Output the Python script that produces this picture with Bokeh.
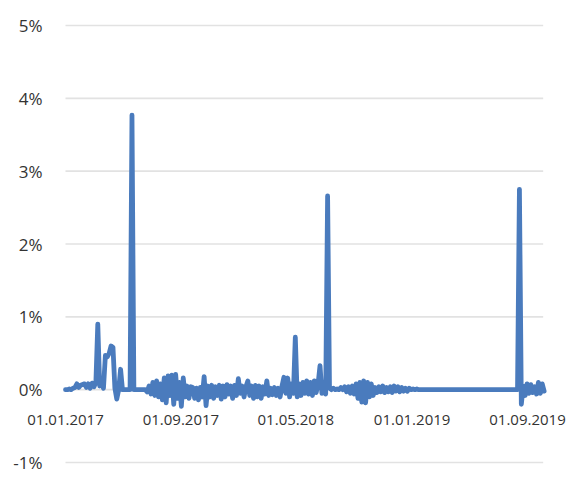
import pandas as pd
from bokeh.plotting import figure
from bokeh.models import ColumnDataSource, Range1d
from bokeh.core.properties import value
from bokeh.embed import file_html
from bokeh.resources import INLINE

# ---- data (observations sampled every 4 days, values in %) ----
start_date = "2017-01-01"
step = "4D"
values = [
    0.0, 0.0, 0.01, 0.0, 0.02, 0.03, 0.08, 0.03, 0.06, 0.07,
    0.08, 0.03, 0.08, 0.02, 0.09, 0.04, 0.1, 0.9, 0.05, 0.08,
    0.02,
    0.47, 0.45, 0.5, 0.6, 0.58, 0.02, -0.13, 0.0, 0.28, 0.0,
    0.0, 0.0, 0.0, 0.0,
    3.77,
    0.0, 0.0, 0.0, 0.0, 0.0, 0.0,
    0.0, -0.03, 0.05, -0.06, 0.1, -0.08, 0.12, -0.1, 0.08, -0.14,
    0.16, -0.18, 0.19, -0.08, 0.2, -0.2, 0.21, -0.12, 0.1, -0.23,
    0.16, -0.1, 0.05, -0.12, 0.04,
    0.03, -0.12, 0.02, -0.14, 0.03, -0.1, 0.18, -0.22, 0.05, -0.1,
    0.06, -0.12, 0.04, -0.08, 0.06, -0.13, 0.05, -0.1, 0.07, -0.06,
    0.05, -0.12, 0.06, -0.08, 0.15, -0.05, 0.05, -0.1, 0.04, 0.12,
    -0.08, 0.05, -0.12, 0.06, -0.1, 0.05, -0.12, 0.04, -0.06, 0.12,
    -0.08, 0.02, -0.07, 0.03, -0.08, 0.02, -0.1, 0.05, 0.17, -0.05,
    0.16, -0.1, 0.08, -0.05, 0.72, -0.1,
    0.08, -0.08, 0.1, -0.05, 0.12, -0.06, 0.1, -0.08, 0.12, -0.04,
    0.08, 0.33, -0.05, 0.1, -0.06, 2.66, 0.02, 0.0,
    0.02, 0.0, 0.01, 0.0, 0.03, 0.0, 0.04, -0.03, 0.04, -0.05,
    0.05, -0.06, 0.08, -0.12, 0.1, -0.17, 0.12, -0.18, 0.1, -0.1,
    0.08, -0.08, 0.03, -0.04, 0.04, -0.03, 0.05, -0.04, 0.03, -0.03,
    0.04, -0.04, 0.05, -0.02, 0.04, -0.03, 0.03, -0.02, 0.02, -0.02,
    0.02, 0.0, 0.01, 0.0, 0.01, 0.0,
    0.0, 0.0, 0.0, 0.0, 0.0, 0.0, 0.0, 0.0, 0.0, 0.0,
    0.0, 0.0, 0.0, 0.0, 0.0, 0.0, 0.0, 0.0, 0.0, 0.0,
    0.0, 0.0, 0.0, 0.0, 0.0, 0.0, 0.0, 0.0, 0.0, 0.0,
    0.0, 0.0, 0.0, 0.0, 0.0, 0.0, 0.0, 0.0, 0.0, 0.0,
    0.0, 0.0, 0.0, 0.0, 0.0, 0.0, 0.0, 0.0, 0.0, 0.0,
    0.0, 0.0,
    2.75,
    -0.2, 0.05, -0.08, 0.08, -0.05, 0.07, -0.04, 0.04, -0.06, 0.1,
    -0.05, 0.08, -0.02,
]
x_tick_dates = ["2017-01-01", "2017-09-01", "2018-05-01", "2019-01-01", "2019-09-01"]
x_tick_labels = ["01.01.2017", "01.09.2017", "01.05.2018", "01.01.2019", "01.09.2019"]
y_ticks = [-1, 0, 1, 2, 3, 4, 5]
y_tick_labels = ["-1%", "0%", "1%", "2%", "3%", "4%", "5%"]
x_start, x_end = pd.Timestamp("2017-01-01"), pd.Timestamp("2019-10-04")

# ---- layout (pixels) ----
W, H = 567, 474
grid_left_px = 65      # where the gridlines start
last_label_px = 527    # centre of the last date label
top_px, bottom_px = 25, 462   # pixel rows of the 5% and -1% gridlines

day = pd.Timedelta(days=1)
px_per_day = (last_label_px - grid_left_px) / ((pd.Timestamp(x_tick_dates[-1]) - x_start) / day)
xr = Range1d(x_start - day * (grid_left_px / px_per_day),
             x_start + day * ((W - grid_left_px) / px_per_day))
ppu = (bottom_px - top_px) / (y_ticks[-1] - y_ticks[0])
yr = Range1d(y_ticks[0] - (H - bottom_px) / ppu, y_ticks[-1] + top_px / ppu)

dates = pd.date_range(start_date, periods=len(values), freq=step)
src = ColumnDataSource(dict(date=dates, value=values))

p = figure(width=W, height=H, x_axis_type="datetime", x_axis_location=None, y_axis_location=None,
           output_backend="svg", toolbar_location=None, x_range=xr, y_range=yr,
           min_border=0)
p.outline_line_color = None
p.background_fill_color = "#ffffff"
p.border_fill_color = "#ffffff"
p.grid.visible = False

# gridlines
grid_src = ColumnDataSource(dict(x0=[x_start] * len(y_ticks), x1=[x_end] * len(y_ticks),
                                 y=y_ticks, lab=y_tick_labels))
p.segment(x0="x0", x1="x1", y0="y", y1="y", source=grid_src,
          line_color="#e2e2e2", line_width=1.6)

# y labels
p.text(x="x0", y="y", text="lab", source=grid_src, text_align="right", text_baseline="middle",
       x_offset=-23, text_font=value("Open Sans"), text_font_size="17px", text_color="#333333")

# series
p.line(x="date", y="value", source=src, line_width=4.8, line_color="#4a7bbd",
       line_join="round", line_cap="round")

# date labels next to the 0% line
lab_src = ColumnDataSource(dict(x=pd.to_datetime(x_tick_dates), y=[0] * len(x_tick_dates),
                                text=x_tick_labels))
p.text(x="x", y="y", text="text", source=lab_src, text_align="center", text_baseline="middle",
       y_offset=30, text_font=value("Open Sans"), text_font_size="15px", text_color="#333333")

open("out.html", "w").write(file_html(p, INLINE))
